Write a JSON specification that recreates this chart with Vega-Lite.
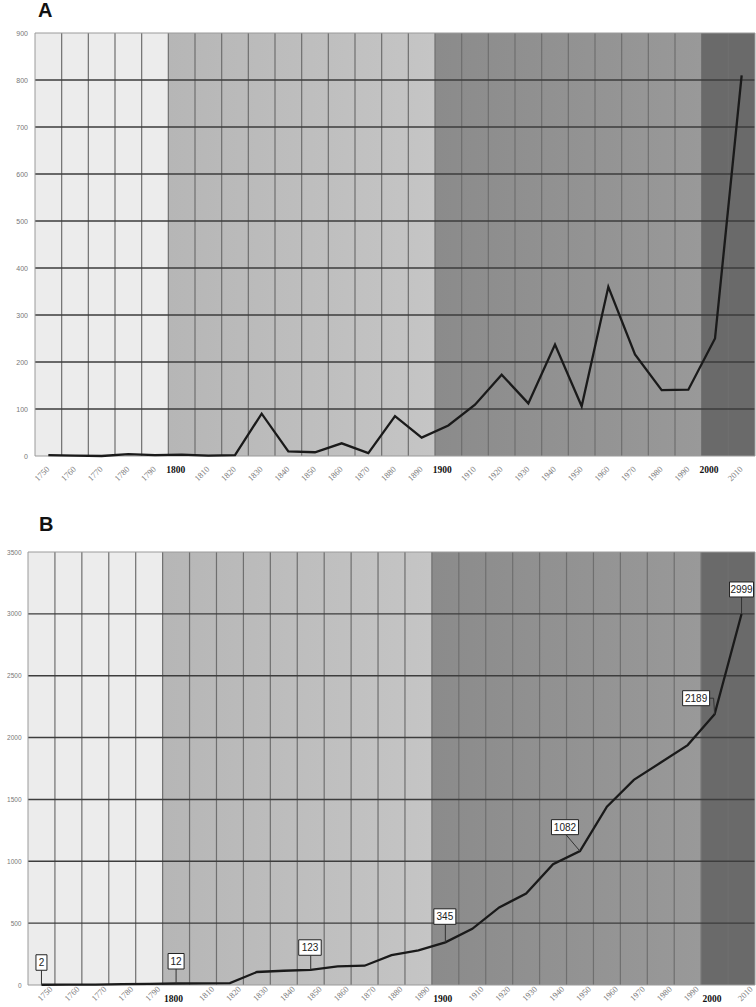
{
  "$schema": "https://vega.github.io/schema/vega-lite/v6.json",
  "padding": {"left": 0, "right": 0, "top": 1, "bottom": 0},
  "spacing": 96,
  "bounds": "flush",
  "config": {
    "view": {"stroke": null},
    "axis": {"grid": false, "ticks": false, "domain": false, "labelOverlap": false, "labelFlush": false, "labelBound": false, "format": "d", "labelColor": "#777777"},
    "axisX": {"labelAngle": -45, "labelAlign": "right", "labelBaseline": "middle", "labelFont": "Liberation Serif", "labelFontSize": 8.5, "tickCount": 27, "labelExpr": "datum.value % 100 === 0 ? '' : datum.label"},
    "axisY": {"labelFont": "Liberation Sans"}
  },
  "datasets": {
    "series": [
      {"year": 1750, "decade": 2, "cumulative": 2},
      {"year": 1760, "decade": 1, "cumulative": 3},
      {"year": 1770, "decade": 0, "cumulative": 3},
      {"year": 1780, "decade": 4, "cumulative": 7},
      {"year": 1790, "decade": 2, "cumulative": 9},
      {"year": 1800, "decade": 3, "cumulative": 12},
      {"year": 1810, "decade": 1, "cumulative": 13},
      {"year": 1820, "decade": 2, "cumulative": 15},
      {"year": 1830, "decade": 90, "cumulative": 105},
      {"year": 1840, "decade": 10, "cumulative": 115},
      {"year": 1850, "decade": 8, "cumulative": 123},
      {"year": 1860, "decade": 27, "cumulative": 150},
      {"year": 1870, "decade": 6, "cumulative": 156},
      {"year": 1880, "decade": 85, "cumulative": 241},
      {"year": 1890, "decade": 39, "cumulative": 280},
      {"year": 1900, "decade": 65, "cumulative": 345},
      {"year": 1910, "decade": 109, "cumulative": 454},
      {"year": 1920, "decade": 173, "cumulative": 627},
      {"year": 1930, "decade": 112, "cumulative": 739},
      {"year": 1940, "decade": 237, "cumulative": 976},
      {"year": 1950, "decade": 106, "cumulative": 1082},
      {"year": 1960, "decade": 360, "cumulative": 1442},
      {"year": 1970, "decade": 216, "cumulative": 1658},
      {"year": 1980, "decade": 140, "cumulative": 1798},
      {"year": 1990, "decade": 141, "cumulative": 1939},
      {"year": 2000, "decade": 250, "cumulative": 2189},
      {"year": 2010, "decade": 810, "cumulative": 2999}
    ],
    "centuries": [
      {"era": "c18", "start": 1745, "end": 1795},
      {"era": "c19", "start": 1795, "end": 1895},
      {"era": "c20", "start": 1895, "end": 1995},
      {"era": "c21", "start": 1995, "end": 2015}
    ],
    "frame": [{"from": 1745, "to": 2015}],
    "vgrid": [
      {"boundary": 1755}, {"boundary": 1765}, {"boundary": 1775}, {"boundary": 1785}, {"boundary": 1795},
      {"boundary": 1805}, {"boundary": 1815}, {"boundary": 1825}, {"boundary": 1835}, {"boundary": 1845},
      {"boundary": 1855}, {"boundary": 1865}, {"boundary": 1875}, {"boundary": 1885}, {"boundary": 1895},
      {"boundary": 1905}, {"boundary": 1915}, {"boundary": 1925}, {"boundary": 1935}, {"boundary": 1945},
      {"boundary": 1955}, {"boundary": 1965}, {"boundary": 1975}, {"boundary": 1985}, {"boundary": 1995},
      {"boundary": 2005}
    ],
    "hgridA": [
      {"level": 100, "from": 1745, "to": 2015}, {"level": 200, "from": 1745, "to": 2015},
      {"level": 300, "from": 1745, "to": 2015}, {"level": 400, "from": 1745, "to": 2015},
      {"level": 500, "from": 1745, "to": 2015}, {"level": 600, "from": 1745, "to": 2015},
      {"level": 700, "from": 1745, "to": 2015}, {"level": 800, "from": 1745, "to": 2015}
    ],
    "hgridB": [
      {"level": 500, "from": 1745, "to": 2015}, {"level": 1000, "from": 1745, "to": 2015},
      {"level": 1500, "from": 1745, "to": 2015}, {"level": 2000, "from": 1745, "to": 2015},
      {"level": 2500, "from": 1745, "to": 2015}, {"level": 3000, "from": 1745, "to": 2015}
    ],
    "callouts": [
      {"year": 1750, "value": 2, "label": "2"},
      {"year": 1800, "value": 12, "label": "12"},
      {"year": 1850, "value": 123, "label": "123"},
      {"year": 1900, "value": 345, "label": "345"},
      {"year": 1950, "value": 1082, "label": "1082"},
      {"year": 2000, "value": 2189, "label": "2189"},
      {"year": 2010, "value": 2999, "label": "2999"}
    ]
  },
  "vconcat": [
    {
      "width": 727,
      "height": 423,
      "title": {"text": "A", "anchor": "start", "frame": "group", "font": "Liberation Sans", "fontSize": 20, "fontWeight": "bold", "color": "#111111", "dx": 10, "offset": 8},
      "layer": [
        {
          "data": {"name": "centuries"},
          "transform": [{"filter": "datum.era === 'c18'"}],
          "mark": {"type": "rect", "fill": "#ececec"},
          "encoding": {
            "x": {"field": "start", "type": "quantitative", "scale": {"domain": [1745, 2015], "range": [7, 727], "nice": false, "zero": false}, "axis": {"title": null, "labelPadding": 11, "labelOffset": -1}},
            "x2": {"field": "end"}
          }
        },
        {
          "data": {"name": "centuries"},
          "transform": [{"filter": "datum.era === 'c19'"}],
          "mark": {"type": "rect", "fill": {"gradient": "linear", "x1": 0, "y1": 0, "x2": 1, "y2": 0, "stops": [{"offset": 0, "color": "#b6b6b6"}, {"offset": 1, "color": "#c5c5c5"}]}},
          "encoding": {
            "x": {"field": "start", "type": "quantitative", "axis": {"title": null, "labelPadding": 11, "labelOffset": -1}},
            "x2": {"field": "end"}
          }
        },
        {
          "data": {"name": "centuries"},
          "transform": [{"filter": "datum.era === 'c20'"}],
          "mark": {"type": "rect", "fill": {"gradient": "linear", "x1": 0, "y1": 0, "x2": 1, "y2": 0, "stops": [{"offset": 0, "color": "#8b8b8b"}, {"offset": 1, "color": "#999999"}]}},
          "encoding": {
            "x": {"field": "start", "type": "quantitative", "axis": {"title": null, "labelPadding": 11, "labelOffset": -1}},
            "x2": {"field": "end"}
          }
        },
        {
          "data": {"name": "centuries"},
          "transform": [{"filter": "datum.era === 'c21'"}],
          "mark": {"type": "rect", "fill": "#6a6a6a"},
          "encoding": {
            "x": {"field": "start", "type": "quantitative", "axis": {"title": null, "labelPadding": 11, "labelOffset": -1}},
            "x2": {"field": "end"}
          }
        },
        {
          "data": {"name": "vgrid"},
          "mark": {"type": "rule", "color": "#6f6f6f", "strokeWidth": 1.2},
          "encoding": {
            "x": {"field": "boundary", "type": "quantitative", "axis": {"title": null, "labelPadding": 11, "labelOffset": -1}}
          }
        },
        {
          "data": {"name": "hgridA"},
          "mark": {"type": "rule", "color": "#3d3d3d", "strokeWidth": 1.4},
          "encoding": {
            "x": {"field": "from", "type": "quantitative", "axis": {"title": null, "labelPadding": 11, "labelOffset": -1}},
            "x2": {"field": "to"},
            "y": {"field": "level", "type": "quantitative", "scale": {"domain": [0, 900], "nice": false}, "axis": {"title": null, "tickCount": 9, "labelPadding": 0.5, "labelFontSize": 7, "minExtent": 28, "maxExtent": 28}}
          }
        },
        {
          "data": {"name": "frame"},
          "mark": {"type": "rect", "fill": "#ffffff", "fillOpacity": 0, "stroke": "#9a9a9a", "strokeWidth": 1},
          "encoding": {
            "x": {"field": "from", "type": "quantitative", "axis": {"title": null, "labelPadding": 11, "labelOffset": -1}},
            "x2": {"field": "to"}
          }
        },
        {
          "data": {"name": "series"},
          "transform": [{"filter": "datum.year % 100 === 0"}],
          "mark": {"type": "text", "font": "Liberation Serif", "fontSize": 9.5, "fontWeight": "bold", "color": "#111111", "align": "center", "baseline": "middle", "xOffset": -6, "yOffset": 14},
          "encoding": {
            "x": {"field": "year", "type": "quantitative", "axis": {"title": null, "labelPadding": 11, "labelOffset": -1}},
            "y": {"datum": 0, "type": "quantitative", "axis": {"title": null, "tickCount": 9, "labelPadding": 0.5, "labelFontSize": 7, "minExtent": 28, "maxExtent": 28}},
            "text": {"field": "year", "type": "quantitative", "format": "d"}
          }
        },
        {
          "data": {"name": "series"},
          "mark": {"type": "line", "color": "#1a1a1a", "strokeWidth": 2.3},
          "encoding": {
            "x": {"field": "year", "type": "quantitative", "axis": {"title": null, "labelPadding": 11, "labelOffset": -1}},
            "y": {"field": "decade", "type": "quantitative", "axis": {"title": null, "tickCount": 9, "labelPadding": 0.5, "labelFontSize": 7, "minExtent": 28, "maxExtent": 28}}
          }
        }
      ]
    },
    {
      "width": 727,
      "height": 433,
      "title": {"text": "B", "anchor": "start", "frame": "group", "font": "Liberation Sans", "fontSize": 20, "fontWeight": "bold", "color": "#111111", "dx": 11, "offset": 14},
      "layer": [
        {
          "data": {"name": "centuries"},
          "transform": [{"filter": "datum.era === 'c18'"}],
          "mark": {"type": "rect", "fill": "#ececec"},
          "encoding": {
            "x": {"field": "start", "type": "quantitative", "scale": {"domain": [1745, 2015], "nice": false, "zero": false}, "axis": {"title": null, "labelPadding": 2, "labelOffset": 9}},
            "x2": {"field": "end"}
          }
        },
        {
          "data": {"name": "centuries"},
          "transform": [{"filter": "datum.era === 'c19'"}],
          "mark": {"type": "rect", "fill": {"gradient": "linear", "x1": 0, "y1": 0, "x2": 1, "y2": 0, "stops": [{"offset": 0, "color": "#b6b6b6"}, {"offset": 1, "color": "#c5c5c5"}]}},
          "encoding": {
            "x": {"field": "start", "type": "quantitative", "axis": {"title": null, "labelPadding": 2, "labelOffset": 9}},
            "x2": {"field": "end"}
          }
        },
        {
          "data": {"name": "centuries"},
          "transform": [{"filter": "datum.era === 'c20'"}],
          "mark": {"type": "rect", "fill": {"gradient": "linear", "x1": 0, "y1": 0, "x2": 1, "y2": 0, "stops": [{"offset": 0, "color": "#8b8b8b"}, {"offset": 1, "color": "#999999"}]}},
          "encoding": {
            "x": {"field": "start", "type": "quantitative", "axis": {"title": null, "labelPadding": 2, "labelOffset": 9}},
            "x2": {"field": "end"}
          }
        },
        {
          "data": {"name": "centuries"},
          "transform": [{"filter": "datum.era === 'c21'"}],
          "mark": {"type": "rect", "fill": "#6a6a6a"},
          "encoding": {
            "x": {"field": "start", "type": "quantitative", "axis": {"title": null, "labelPadding": 2, "labelOffset": 9}},
            "x2": {"field": "end"}
          }
        },
        {
          "data": {"name": "vgrid"},
          "mark": {"type": "rule", "color": "#6f6f6f", "strokeWidth": 1.2},
          "encoding": {
            "x": {"field": "boundary", "type": "quantitative", "axis": {"title": null, "labelPadding": 2, "labelOffset": 9}}
          }
        },
        {
          "data": {"name": "hgridB"},
          "mark": {"type": "rule", "color": "#3d3d3d", "strokeWidth": 1.4},
          "encoding": {
            "x": {"field": "from", "type": "quantitative", "axis": {"title": null, "labelPadding": 2, "labelOffset": 9}},
            "x2": {"field": "to"},
            "y": {"field": "level", "type": "quantitative", "scale": {"domain": [0, 3500], "nice": false}, "axis": {"title": null, "tickCount": 7, "labelPadding": 7, "labelFontSize": 6.5, "minExtent": 28, "maxExtent": 28}}
          }
        },
        {
          "data": {"name": "frame"},
          "mark": {"type": "rect", "fill": "#ffffff", "fillOpacity": 0, "stroke": "#9a9a9a", "strokeWidth": 1},
          "encoding": {
            "x": {"field": "from", "type": "quantitative", "axis": {"title": null, "labelPadding": 2, "labelOffset": 9}},
            "x2": {"field": "to"}
          }
        },
        {
          "data": {"name": "series"},
          "transform": [{"filter": "datum.year % 100 === 0"}],
          "mark": {"type": "text", "font": "Liberation Serif", "fontSize": 9.5, "fontWeight": "bold", "color": "#111111", "align": "center", "baseline": "middle", "xOffset": -2.5, "yOffset": 14},
          "encoding": {
            "x": {"field": "year", "type": "quantitative", "axis": {"title": null, "labelPadding": 2, "labelOffset": 9}},
            "y": {"datum": 0, "type": "quantitative", "axis": {"title": null, "tickCount": 7, "labelPadding": 7, "labelFontSize": 6.5, "minExtent": 28, "maxExtent": 28}},
            "text": {"field": "year", "type": "quantitative", "format": "d"}
          }
        },
        {
          "data": {"name": "series"},
          "mark": {"type": "line", "color": "#1a1a1a", "strokeWidth": 2.3},
          "encoding": {
            "x": {"field": "year", "type": "quantitative", "axis": {"title": null, "labelPadding": 2, "labelOffset": 9}},
            "y": {"field": "cumulative", "type": "quantitative", "axis": {"title": null, "tickCount": 7, "labelPadding": 7, "labelFontSize": 6.5, "minExtent": 28, "maxExtent": 28}}
          }
        },
        {
          "data": {"name": "callouts"},
          "transform": [{"filter": "datum.label === '2' || datum.label === '12' || datum.label === '123'"}],
          "mark": {"type": "rule", "color": "#333333", "strokeWidth": 1, "y2Offset": -14.5},
          "encoding": {
            "x": {"field": "year", "type": "quantitative", "axis": {"title": null, "labelPadding": 2, "labelOffset": 9}},
            "x2": {"field": "year"},
            "y": {"field": "value", "type": "quantitative", "axis": {"title": null, "tickCount": 7, "labelPadding": 7, "labelFontSize": 6.5, "minExtent": 28, "maxExtent": 28}},
            "y2": {"field": "value"}
          }
        },
        {
          "data": {"name": "callouts"},
          "transform": [{"filter": "datum.label === '345'"}],
          "mark": {"type": "rule", "color": "#333333", "strokeWidth": 1, "y2Offset": -18},
          "encoding": {
            "x": {"field": "year", "type": "quantitative", "axis": {"title": null, "labelPadding": 2, "labelOffset": 9}},
            "x2": {"field": "year"},
            "y": {"field": "value", "type": "quantitative", "axis": {"title": null, "tickCount": 7, "labelPadding": 7, "labelFontSize": 6.5, "minExtent": 28, "maxExtent": 28}},
            "y2": {"field": "value"}
          }
        },
        {
          "data": {"name": "callouts"},
          "transform": [{"filter": "datum.label === '1082'"}],
          "mark": {"type": "rule", "color": "#333333", "strokeWidth": 1, "x2Offset": -14, "y2Offset": -16.5},
          "encoding": {
            "x": {"field": "year", "type": "quantitative", "axis": {"title": null, "labelPadding": 2, "labelOffset": 9}},
            "x2": {"field": "year"},
            "y": {"field": "value", "type": "quantitative", "axis": {"title": null, "tickCount": 7, "labelPadding": 7, "labelFontSize": 6.5, "minExtent": 28, "maxExtent": 28}},
            "y2": {"field": "value"}
          }
        },
        {
          "data": {"name": "callouts"},
          "transform": [{"filter": "datum.label === '2189'"}],
          "mark": {"type": "rule", "color": "#333333", "strokeWidth": 1, "x2Offset": -1, "y2Offset": -16},
          "encoding": {
            "x": {"field": "year", "type": "quantitative", "axis": {"title": null, "labelPadding": 2, "labelOffset": 9}},
            "x2": {"field": "year"},
            "y": {"field": "value", "type": "quantitative", "axis": {"title": null, "tickCount": 7, "labelPadding": 7, "labelFontSize": 6.5, "minExtent": 28, "maxExtent": 28}},
            "y2": {"field": "value"}
          }
        },
        {
          "data": {"name": "callouts"},
          "transform": [{"filter": "datum.label === '2189'"}],
          "mark": {"type": "rule", "color": "#333333", "strokeWidth": 1, "xOffset": -5, "x2Offset": -1, "yOffset": -16, "y2Offset": -16},
          "encoding": {
            "x": {"field": "year", "type": "quantitative", "axis": {"title": null, "labelPadding": 2, "labelOffset": 9}},
            "x2": {"field": "year"},
            "y": {"field": "value", "type": "quantitative", "axis": {"title": null, "tickCount": 7, "labelPadding": 7, "labelFontSize": 6.5, "minExtent": 28, "maxExtent": 28}},
            "y2": {"field": "value"}
          }
        },
        {
          "data": {"name": "callouts"},
          "transform": [{"filter": "datum.label === '2999'"}],
          "mark": {"type": "rule", "color": "#333333", "strokeWidth": 1, "y2Offset": -17},
          "encoding": {
            "x": {"field": "year", "type": "quantitative", "axis": {"title": null, "labelPadding": 2, "labelOffset": 9}},
            "x2": {"field": "year"},
            "y": {"field": "value", "type": "quantitative", "axis": {"title": null, "tickCount": 7, "labelPadding": 7, "labelFontSize": 6.5, "minExtent": 28, "maxExtent": 28}},
            "y2": {"field": "value"}
          }
        },
        {
          "data": {"name": "callouts"},
          "transform": [{"filter": "datum.label === '2'"}],
          "mark": {"type": "rect", "fill": "#ffffff", "stroke": "#222222", "strokeWidth": 1, "xOffset": -5.5, "x2Offset": 5.5, "yOffset": -30, "y2Offset": -14.5},
          "encoding": {
            "x": {"field": "year", "type": "quantitative", "axis": {"title": null, "labelPadding": 2, "labelOffset": 9}},
            "x2": {"field": "year"},
            "y": {"field": "value", "type": "quantitative", "axis": {"title": null, "tickCount": 7, "labelPadding": 7, "labelFontSize": 6.5, "minExtent": 28, "maxExtent": 28}},
            "y2": {"field": "value"}
          }
        },
        {
          "data": {"name": "callouts"},
          "transform": [{"filter": "datum.label === '12'"}],
          "mark": {"type": "rect", "fill": "#ffffff", "stroke": "#222222", "strokeWidth": 1, "xOffset": -8, "x2Offset": 8, "yOffset": -30, "y2Offset": -14.5},
          "encoding": {
            "x": {"field": "year", "type": "quantitative", "axis": {"title": null, "labelPadding": 2, "labelOffset": 9}},
            "x2": {"field": "year"},
            "y": {"field": "value", "type": "quantitative", "axis": {"title": null, "tickCount": 7, "labelPadding": 7, "labelFontSize": 6.5, "minExtent": 28, "maxExtent": 28}},
            "y2": {"field": "value"}
          }
        },
        {
          "data": {"name": "callouts"},
          "transform": [{"filter": "datum.label === '123'"}],
          "mark": {"type": "rect", "fill": "#ffffff", "stroke": "#222222", "strokeWidth": 1, "xOffset": -12, "x2Offset": 10.5, "yOffset": -30, "y2Offset": -14.5},
          "encoding": {
            "x": {"field": "year", "type": "quantitative", "axis": {"title": null, "labelPadding": 2, "labelOffset": 9}},
            "x2": {"field": "year"},
            "y": {"field": "value", "type": "quantitative", "axis": {"title": null, "tickCount": 7, "labelPadding": 7, "labelFontSize": 6.5, "minExtent": 28, "maxExtent": 28}},
            "y2": {"field": "value"}
          }
        },
        {
          "data": {"name": "callouts"},
          "transform": [{"filter": "datum.label === '345'"}],
          "mark": {"type": "rect", "fill": "#ffffff", "stroke": "#222222", "strokeWidth": 1, "xOffset": -11.5, "x2Offset": 10.5, "yOffset": -33.5, "y2Offset": -18},
          "encoding": {
            "x": {"field": "year", "type": "quantitative", "axis": {"title": null, "labelPadding": 2, "labelOffset": 9}},
            "x2": {"field": "year"},
            "y": {"field": "value", "type": "quantitative", "axis": {"title": null, "tickCount": 7, "labelPadding": 7, "labelFontSize": 6.5, "minExtent": 28, "maxExtent": 28}},
            "y2": {"field": "value"}
          }
        },
        {
          "data": {"name": "callouts"},
          "transform": [{"filter": "datum.label === '1082'"}],
          "mark": {"type": "rect", "fill": "#ffffff", "stroke": "#222222", "strokeWidth": 1, "xOffset": -28.5, "x2Offset": -1.5, "yOffset": -31.5, "y2Offset": -16.5},
          "encoding": {
            "x": {"field": "year", "type": "quantitative", "axis": {"title": null, "labelPadding": 2, "labelOffset": 9}},
            "x2": {"field": "year"},
            "y": {"field": "value", "type": "quantitative", "axis": {"title": null, "tickCount": 7, "labelPadding": 7, "labelFontSize": 6.5, "minExtent": 28, "maxExtent": 28}},
            "y2": {"field": "value"}
          }
        },
        {
          "data": {"name": "callouts"},
          "transform": [{"filter": "datum.label === '2189'"}],
          "mark": {"type": "rect", "fill": "#ffffff", "stroke": "#222222", "strokeWidth": 1, "xOffset": -32, "x2Offset": -5, "yOffset": -23.5, "y2Offset": -8.5},
          "encoding": {
            "x": {"field": "year", "type": "quantitative", "axis": {"title": null, "labelPadding": 2, "labelOffset": 9}},
            "x2": {"field": "year"},
            "y": {"field": "value", "type": "quantitative", "axis": {"title": null, "tickCount": 7, "labelPadding": 7, "labelFontSize": 6.5, "minExtent": 28, "maxExtent": 28}},
            "y2": {"field": "value"}
          }
        },
        {
          "data": {"name": "callouts"},
          "transform": [{"filter": "datum.label === '2999'"}],
          "mark": {"type": "rect", "fill": "#ffffff", "stroke": "#222222", "strokeWidth": 1, "xOffset": -12, "x2Offset": 12, "yOffset": -32, "y2Offset": -17},
          "encoding": {
            "x": {"field": "year", "type": "quantitative", "axis": {"title": null, "labelPadding": 2, "labelOffset": 9}},
            "x2": {"field": "year"},
            "y": {"field": "value", "type": "quantitative", "axis": {"title": null, "tickCount": 7, "labelPadding": 7, "labelFontSize": 6.5, "minExtent": 28, "maxExtent": 28}},
            "y2": {"field": "value"}
          }
        },
        {
          "data": {"name": "callouts"},
          "transform": [{"filter": "datum.label === '2' || datum.label === '12'"}],
          "mark": {"type": "text", "font": "Liberation Sans", "fontSize": 10, "color": "#222222", "align": "center", "baseline": "middle", "yOffset": -21.5},
          "encoding": {
            "x": {"field": "year", "type": "quantitative", "axis": {"title": null, "labelPadding": 2, "labelOffset": 9}},
            "y": {"field": "value", "type": "quantitative", "axis": {"title": null, "tickCount": 7, "labelPadding": 7, "labelFontSize": 6.5, "minExtent": 28, "maxExtent": 28}},
            "text": {"field": "label"}
          }
        },
        {
          "data": {"name": "callouts"},
          "transform": [{"filter": "datum.label === '123'"}],
          "mark": {"type": "text", "font": "Liberation Sans", "fontSize": 10, "color": "#222222", "align": "center", "baseline": "middle", "xOffset": -0.75, "yOffset": -21.5},
          "encoding": {
            "x": {"field": "year", "type": "quantitative", "axis": {"title": null, "labelPadding": 2, "labelOffset": 9}},
            "y": {"field": "value", "type": "quantitative", "axis": {"title": null, "tickCount": 7, "labelPadding": 7, "labelFontSize": 6.5, "minExtent": 28, "maxExtent": 28}},
            "text": {"field": "label"}
          }
        },
        {
          "data": {"name": "callouts"},
          "transform": [{"filter": "datum.label === '345'"}],
          "mark": {"type": "text", "font": "Liberation Sans", "fontSize": 10, "color": "#222222", "align": "center", "baseline": "middle", "xOffset": -0.5, "yOffset": -25},
          "encoding": {
            "x": {"field": "year", "type": "quantitative", "axis": {"title": null, "labelPadding": 2, "labelOffset": 9}},
            "y": {"field": "value", "type": "quantitative", "axis": {"title": null, "tickCount": 7, "labelPadding": 7, "labelFontSize": 6.5, "minExtent": 28, "maxExtent": 28}},
            "text": {"field": "label"}
          }
        },
        {
          "data": {"name": "callouts"},
          "transform": [{"filter": "datum.label === '1082'"}],
          "mark": {"type": "text", "font": "Liberation Sans", "fontSize": 10, "color": "#222222", "align": "center", "baseline": "middle", "xOffset": -15, "yOffset": -23.5},
          "encoding": {
            "x": {"field": "year", "type": "quantitative", "axis": {"title": null, "labelPadding": 2, "labelOffset": 9}},
            "y": {"field": "value", "type": "quantitative", "axis": {"title": null, "tickCount": 7, "labelPadding": 7, "labelFontSize": 6.5, "minExtent": 28, "maxExtent": 28}},
            "text": {"field": "label"}
          }
        },
        {
          "data": {"name": "callouts"},
          "transform": [{"filter": "datum.label === '2189'"}],
          "mark": {"type": "text", "font": "Liberation Sans", "fontSize": 10, "color": "#222222", "align": "center", "baseline": "middle", "xOffset": -18.5, "yOffset": -15.5},
          "encoding": {
            "x": {"field": "year", "type": "quantitative", "axis": {"title": null, "labelPadding": 2, "labelOffset": 9}},
            "y": {"field": "value", "type": "quantitative", "axis": {"title": null, "tickCount": 7, "labelPadding": 7, "labelFontSize": 6.5, "minExtent": 28, "maxExtent": 28}},
            "text": {"field": "label"}
          }
        },
        {
          "data": {"name": "callouts"},
          "transform": [{"filter": "datum.label === '2999'"}],
          "mark": {"type": "text", "font": "Liberation Sans", "fontSize": 10, "color": "#222222", "align": "center", "baseline": "middle", "yOffset": -24},
          "encoding": {
            "x": {"field": "year", "type": "quantitative", "axis": {"title": null, "labelPadding": 2, "labelOffset": 9}},
            "y": {"field": "value", "type": "quantitative", "axis": {"title": null, "tickCount": 7, "labelPadding": 7, "labelFontSize": 6.5, "minExtent": 28, "maxExtent": 28}},
            "text": {"field": "label"}
          }
        }
      ]
    }
  ]
}
